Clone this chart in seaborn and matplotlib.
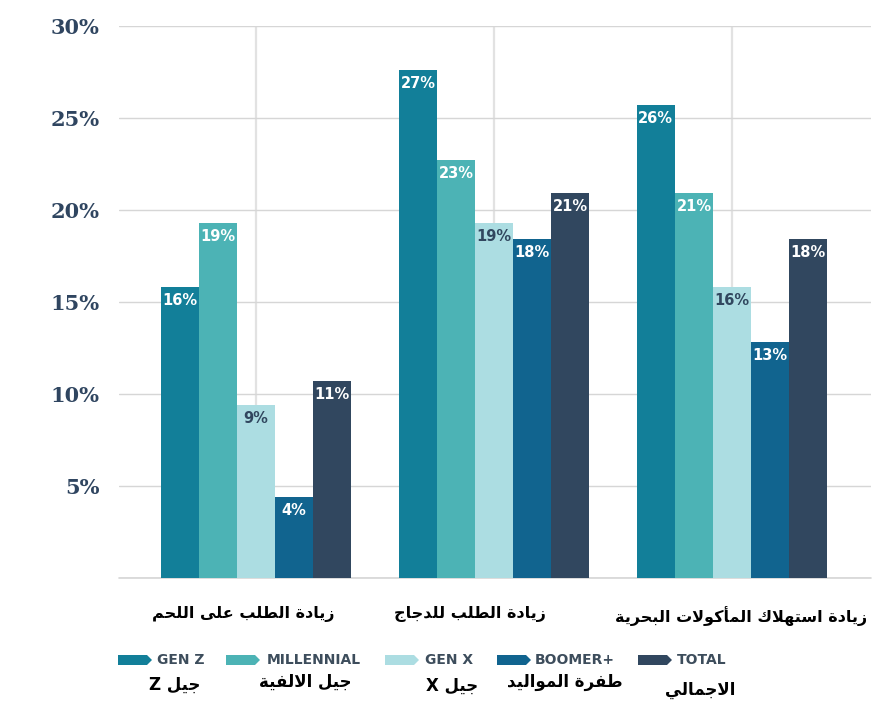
import numpy as np
import pandas as pd
import matplotlib
matplotlib.use("Agg")
import matplotlib.pyplot as plt
import matplotlib.transforms as mtransforms
from matplotlib.patches import Polygon
import seaborn as sns

# ---------------- data ----------------
categories = ["زيادة الطلب على اللحم", "زيادة الطلب للدجاج", "زيادة استهلاك المأكولات البحرية"]
series = ["GEN Z", "MILLENNIAL", "GEN X", "BOOMER+", "TOTAL"]
series_ar = ["جيل Z", "جيل الالفية", "جيل X", "طفرة المواليد", "الاجمالي"]
gen_z = [15.8, 27.6, 25.7]
millennial = [19.3, 22.7, 20.9]
gen_x = [9.4, 19.3, 15.8]
boomer = [4.4, 18.4, 12.8]
total = [10.7, 20.9, 18.4]
gen_z_lbl = ["16%", "27%", "26%"]
millennial_lbl = ["19%", "23%", "21%"]
gen_x_lbl = ["9%", "19%", "16%"]
boomer_lbl = ["4%", "18%", "13%"]
total_lbl = ["11%", "21%", "18%"]
y_ticks = [0, 5, 10, 15, 20, 25, 30]
y_tick_labels = ["", "5%", "10%", "15%", "20%", "25%", "30%"]

colors = ["#127f99", "#4cb3b5", "#acdde2", "#11648f", "#31475f"]
label_colors = ["white", "white", "#31475f", "white", "white"]

# ------------- simple Arabic shaping (visual order) -------------
FORMS = {
    'ا': ('\uFE8D', '\uFE8E', None, None),
    'أ': ('\uFE83', '\uFE84', None, None),
    'ب': ('\uFE8F', '\uFE90', '\uFE91', '\uFE92'),
    'ة': ('\uFE93', '\uFE94', None, None),
    'ت': ('\uFE95', '\uFE96', '\uFE97', '\uFE98'),
    'ج': ('\uFE9D', '\uFE9E', '\uFE9F', '\uFEA0'),
    'ح': ('\uFEA1', '\uFEA2', '\uFEA3', '\uFEA4'),
    'د': ('\uFEA9', '\uFEAA', None, None),
    'ر': ('\uFEAD', '\uFEAE', None, None),
    'ز': ('\uFEAF', '\uFEB0', None, None),
    'س': ('\uFEB1', '\uFEB2', '\uFEB3', '\uFEB4'),
    'ط': ('\uFEC1', '\uFEC2', '\uFEC3', '\uFEC4'),
    'ع': ('\uFEC9', '\uFECA', '\uFECB', '\uFECC'),
    'ف': ('\uFED1', '\uFED2', '\uFED3', '\uFED4'),
    'ق': ('\uFED5', '\uFED6', '\uFED7', '\uFED8'),
    'ك': ('\uFED9', '\uFEDA', '\uFEDB', '\uFEDC'),
    'ل': ('\uFEDD', '\uFEDE', '\uFEDF', '\uFEE0'),
    'م': ('\uFEE1', '\uFEE2', '\uFEE3', '\uFEE4'),
    'ه': ('\uFEE9', '\uFEEA', '\uFEEB', '\uFEEC'),
    'و': ('\uFEED', '\uFEEE', None, None),
    'ى': ('\uFEEF', '\uFEF0', None, None),
    'ي': ('\uFEF1', '\uFEF2', '\uFEF3', '\uFEF4'),
}
LAMALEF = {'ا': ('\uFEFB', '\uFEFC'), 'أ': ('\uFEF7', '\uFEF8')}


def _shape_ar(s):
    units = []
    i = 0
    while i < len(s):
        c = s[i]
        if c == 'ل' and i + 1 < len(s) and s[i + 1] in LAMALEF:
            units.append(('LA', s[i + 1]))
            i += 2
        else:
            units.append(('C', c))
            i += 1

    def dual(u):
        return u is not None and u[0] == 'C' and u[1] in FORMS and FORMS[u[1]][2] is not None

    def arab(u):
        return u is not None and (u[0] == 'LA' or u[1] in FORMS)

    out = []
    for k, u in enumerate(units):
        prev = units[k - 1] if k > 0 else None
        nxt = units[k + 1] if k + 1 < len(units) else None
        jp = dual(prev)
        if u[0] == 'LA':
            g = LAMALEF[u[1]][1 if jp else 0]
        elif u[1] in FORMS:
            f = FORMS[u[1]]
            jn = f[2] is not None and arab(nxt)
            if jp and jn:
                g = f[3]
            elif jp:
                g = f[1]
            elif jn:
                g = f[2]
            else:
                g = f[0]
        else:
            g = u[1]
        out.append(g)
    return ''.join(reversed(out))


def visual(s):
    parts = s.split(' ')
    latin = [p for p in parts if p and all(ord(ch) < 128 for ch in p)]
    arabic = ' '.join(p for p in parts if p not in latin)
    shaped = _shape_ar(arabic)
    if latin:
        return ' '.join(latin) + ' ' + shaped
    return shaped


# ---------------- figure ----------------
sns.set_theme(style="white")
plt.rcParams['font.family'] = ['DejaVu Sans']

W, H = 891, 703
fig = plt.figure(figsize=(W / 100, H / 100), dpi=100)
ax_left, ax_right, ax_top, ax_bottom = 119, 871, 26, 578
ax = fig.add_axes([ax_left / W, 1 - ax_bottom / H, (ax_right - ax_left) / W, (ax_bottom - ax_top) / H])

values = [gen_z, millennial, gen_x, boomer, total]
labels = [gen_z_lbl, millennial_lbl, gen_x_lbl, boomer_lbl, total_lbl]
rows = []
for s, vals in zip(series, values):
    for c, v in zip(categories, vals):
        rows.append({"category": c, "series": s, "value": v})
df = pd.DataFrame(rows)

ax.set_axisbelow(True)
ax.axhline(0, color='#d6d6d6', linewidth=1.2, clip_on=False, zorder=0.5)

sns.barplot(data=df, x="category", y="value", hue="series", order=categories,
            hue_order=series, palette=colors, width=0.8, saturation=1,
            edgecolor="none", linewidth=0, legend=False, ax=ax, errorbar=None)

for cont, lbls, lc in zip(ax.containers, labels, label_colors):
    ax.bar_label(cont, labels=lbls, padding=-15, color=lc, fontsize=10.5,
                 fontweight='bold', family='DejaVu Sans')

ax.set_ylim(0, 30)
ax.set_xlim(-0.576, 2.584)
ax.set_yticks(y_ticks)
ax.set_yticklabels(y_tick_labels, fontfamily='DejaVu Serif', fontweight='bold',
                   fontsize=15, color='#2f4560')
ax.tick_params(axis='y', length=0, pad=14)
ax.set_xticks(range(len(categories)))
ax.set_xticklabels([visual(c) for c in categories], fontsize=11.5, fontweight='bold',
                   color='black')
ax.tick_params(axis='x', length=0, pad=20)
offsets_px = [-13, -24, 9]
for lab, dx in zip(ax.get_xticklabels(), offsets_px):
    lab.set_transform(lab.get_transform() + mtransforms.ScaledTranslation(dx / 100, 0, fig.dpi_scale_trans))

ax.set_xlabel("")
ax.set_ylabel("")
for sp in ax.spines.values():
    sp.set_visible(False)
ax.yaxis.grid(True, color='#d6d6d6', linewidth=1.0)
ax.xaxis.grid(True, color='#e2e2e2', linewidth=1.6)

# ---------------- legend ----------------
def px(x, y):
    return (x / W, 1 - y / H)

patch_x = [118, 226, 385, 497, 638]
text_x = [157, 267, 425, 535, 677]
ar_x = [175, 305, 452, 565, 700]
ar_y = [685, 682, 686, 682, 690]
ly = 660
for i, s in enumerate(series):
    x0 = patch_x[i]
    pts = [px(x0, ly - 5), px(x0 + 29, ly - 5), px(x0 + 34, ly), px(x0 + 29, ly + 5), px(x0, ly + 5)]
    fig.patches.append(Polygon(pts, closed=True, transform=fig.transFigure,
                               facecolor=colors[i], edgecolor='none'))
    fig.text(*px(text_x[i], ly), s, ha='left', va='center', fontsize=10,
             fontweight='bold', color='#3d4d5c')
    fig.text(*px(ar_x[i], ar_y[i]), visual(series_ar[i]), ha='center', va='center',
             fontsize=12, fontweight='bold', color='black')

fig.savefig("out.png", dpi=100)
